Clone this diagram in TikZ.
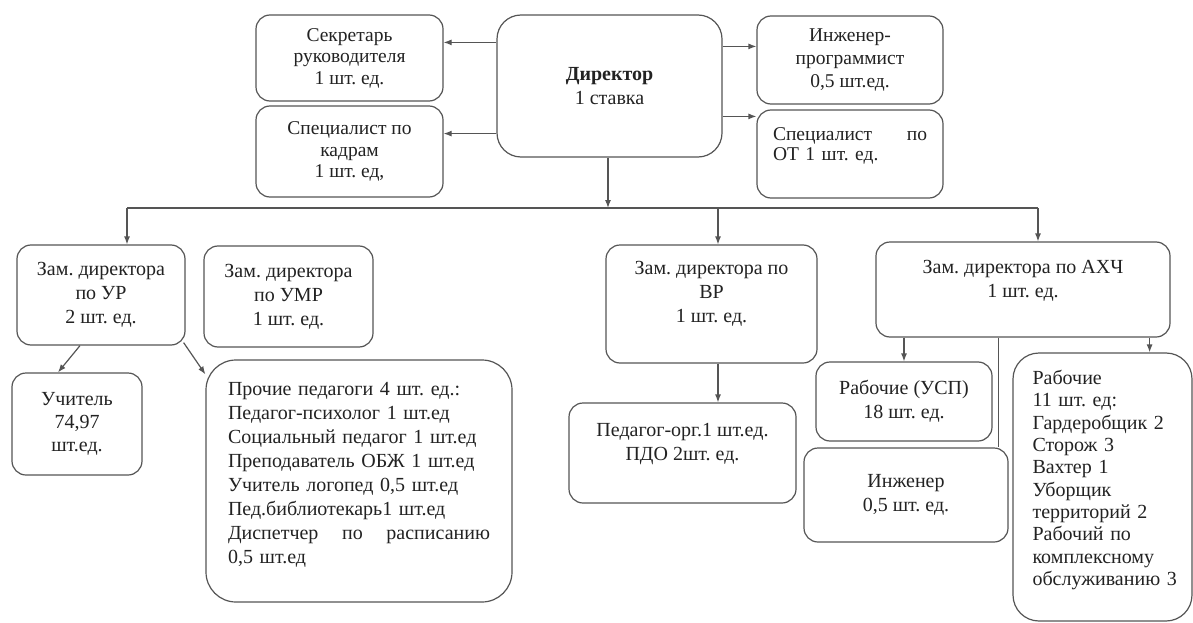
\documentclass[tikz,border=0pt]{standalone}
\usepackage{fontspec}
\setmainfont{Liberation Serif}
\usetikzlibrary{arrows.meta}
\definecolor{linec}{HTML}{555555}
\definecolor{textc}{HTML}{222222}
\begin{document}
\frenchspacing
\begin{tikzpicture}[x=1pt,y=-1pt,
  box/.style={draw=linec, line width=1.2pt, rounded corners=14pt, align=center,
    text=textc, inner sep=0pt, font=\fontsize{20}{24}\selectfont},
  topbox/.style={box, font=\fontsize{19.5}{21.5}\selectfont},
  arr/.style={draw=linec, line width=1.2pt, -{Latex[length=8pt,width=6pt]}},
  ln/.style={draw=linec, line width=1.2pt}]
\useasboundingbox[fill=white] (0,0) rectangle (1193,623);

% top row
\node[box, rounded corners=24pt, minimum width=225pt, minimum height=142pt] (dir) at (609.5,86)
  {\textbf{Директор}\\1 ставка};
\node[topbox, minimum width=187pt, minimum height=86pt] (sec) at (349.5,58)
  {Секретарь\\руководителя\\1 шт. ед.};
\node[topbox, minimum width=187pt, minimum height=91pt] (kadr) at (349.5,151.5)
  {Специалист по\\кадрам\\1 шт. ед,};
\node[topbox, font=\fontsize{19.5}{23}\selectfont, minimum width=186pt, minimum height=88pt] (prog) at (850,60)
  {Инженер-\\программист\\0,5 шт.ед.};
\node[topbox, font=\fontsize{19.5}{20}\selectfont, align=left, text width=154pt, inner xsep=16pt,
  minimum height=88pt] (ot) at (850,154)
  {Специалист\hfill по\\ОТ 1 шт. ед.\\\mbox{}};

% second row
\node[box, minimum width=168pt, minimum height=100pt] (ur) at (101,295)
  {Зам. директора\\по УР\\2 шт. ед.};
\node[box, minimum width=169pt, minimum height=101pt] (umr) at (288.5,296.5)
  {Зам. директора\\по УМР\\1 шт. ед.};
\node[box, minimum width=211pt, minimum height=118pt] (vr) at (711.5,304)
  {Зам. директора по\\ВР\\1 шт. ед.\\[0pt]\mbox{}};
\node[box, minimum width=294pt, minimum height=95pt] (ahch) at (1023,289.5)
  {Зам. директора по АХЧ\\1 шт. ед.\\[-2pt]\mbox{}};

% third row
\node[box, minimum width=130pt, minimum height=102pt, font=\fontsize{20}{23}\selectfont] (uch) at (77,424)
  {Учитель\\74,97\\шт.ед.};
\node[box, rounded corners=30pt, align=left, text width=262pt, inner xsep=22pt,
  minimum height=242pt, font=\fontsize{20}{23.9}\selectfont] (proch) at (359,481)
  {Прочие педагоги 4 шт. ед.:\\
   Педагог-психолог 1 шт.ед\\
   Социальный педагог 1 шт.ед\\
   Преподаватель ОБЖ 1 шт.ед\\
   Учитель логопед 0,5 шт.ед\\
   Пед.библиотекарь1 шт.ед\\
   Диспетчер\hfill по\hfill расписанию\\
   0,5 шт.ед\\[-8pt]\mbox{}};
\node[box, minimum width=227pt, minimum height=100pt] (porg) at (682.5,453)
  {Педагог-орг.1 шт.ед.\\ПДО 2шт. ед.\\[-2pt]\mbox{}};
\node[box, minimum width=176pt, minimum height=79pt] (usp) at (904,401.5)
  {Рабочие (УСП)\\18 шт. ед.};
\node[box, minimum width=204pt, minimum height=94pt] (ing) at (906,495)
  {Инженер\\0,5 шт. ед.};
\node[box, rounded corners=26pt, align=left, text width=140pt, inner xsep=19.5pt,
  minimum height=268pt, font=\fontsize{20}{22.3}\selectfont] (rab) at (1102.5,487)
  {Рабочие\\11 шт. ед:\\Гардеробщик 2\\Сторож 3\\Вахтер 1\\Уборщик\\территорий 2\\Рабочий по\\комплексному\\\mbox{обслуживанию 3}\\[-4pt]\mbox{}};

% connectors: director to staff
\draw[arr] ([yshift=-28pt]dir.north west) -- ([yshift=-28pt]dir.north west -| sec.east);
\draw[arr] ([yshift=24pt]dir.south west) -- ([yshift=24pt]dir.south west -| kadr.east);
\draw[arr] ([yshift=-32pt]dir.north east) -- ([yshift=-32pt]dir.north east -| prog.west);
\draw[arr] ([yshift=-102pt]dir.north east) -- ([yshift=-102pt]dir.north east -| ot.west);

% bus
\coordinate (busL) at (127,208);
\coordinate (busR) at (1038,208);
\draw[ln] (busL) -- (busR);
\draw[arr] ([xshift=-1.5pt]dir.south) -- ([xshift=-1.5pt]dir.south |- busL);
\draw[arr] (busL) -- (busL |- ur.north);
\draw[arr] ([xshift=6.5pt]vr.north |- busL) -- ([xshift=6.5pt]vr.north);
\draw[arr] (busR) -- (busR |- ahch.north);

% deputies to subordinates
\draw[arr] ([xshift=-21pt]ur.south) -- ([xshift=-19pt]uch.north);
\draw[arr] ([xshift=-2pt,yshift=3pt]ur.south east) -- ([yshift=-15pt]proch.north west);
\draw[arr] ([xshift=6.5pt]vr.south) -- ([xshift=6.5pt]vr.south |- porg.north);
\draw[arr] (usp.north |- ahch.south) -- (usp.north);
\draw[ln] ([xshift=-10pt]ing.north east |- ahch.south) -- ([xshift=-10pt]ing.north east);
\draw[arr] ([xshift=-43pt]rab.north east |- ahch.south) -- ([xshift=-43pt]rab.north east);
\end{tikzpicture}
\end{document}
